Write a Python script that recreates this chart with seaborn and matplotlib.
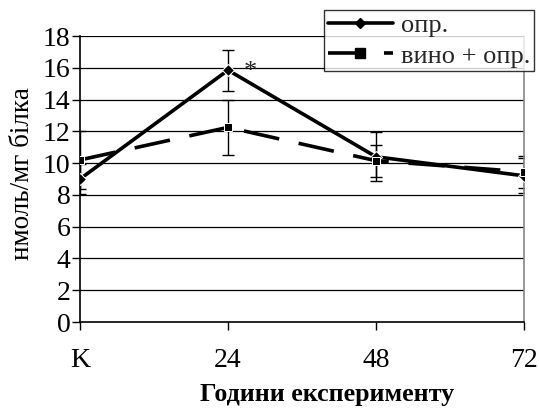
import numpy as np
import pandas as pd
import matplotlib
matplotlib.use("Agg")
import matplotlib.pyplot as plt
import seaborn as sns
from matplotlib.lines import Line2D

categories = ["K", "24", "48", "72"]
opr_values = [9.0, 15.85, 10.4, 9.2]
opr_errors = [0.95, 1.3, 1.55, 1.1]
wine_values = [10.2, 12.25, 10.15, 9.45]
wine_errors = [1.85, 1.75, 1.0, 1.0]
series_names = ["опр.", "вино + опр."]
y_ticks = [0, 2, 4, 6, 8, 10, 12, 14, 16, 18]

sns.set_theme(style="white")
plt.rcParams["font.family"] = ["Liberation Serif", "DejaVu Serif"]

df = pd.DataFrame({
    "x": list(range(len(categories))) * 2,
    "value": opr_values + wine_values,
    "series": [series_names[0]] * 4 + [series_names[1]] * 4,
})

fig = plt.figure(figsize=(5.39, 4.08), dpi=100)
ax = fig.add_axes([80/539, 1-322/408, (524-80)/539, (322-36)/408])

for yv in y_ticks[1:]:
    ax.axhline(yv, color="black", lw=0.9, zorder=0)

for vals, errs in ((opr_values, opr_errors), (wine_values, wine_errors)):
    ax.errorbar(range(len(categories)), vals, yerr=errs, fmt="none",
                ecolor="black", elinewidth=1.0, capsize=4, capthick=1.0, zorder=2)

sns.lineplot(data=df, x="x", y="value", style="series", hue="series",
             palette=["black", "black"],
             dashes={series_names[0]: "", series_names[1]: (10, 5.5)},
             markers={series_names[0]: "D", series_names[1]: "s"},
             markersize=6, linewidth=2.6, ax=ax, legend=False, zorder=3)

ax.text(1.15, 15.75, "*", fontsize=19, ha="center", va="center")

ax.set_xlim(0, 3)
ax.set_ylim(0, 18)
ax.set_xticks(range(len(categories)))
ax.set_xticklabels(categories)
ax.set_yticks(y_ticks)
ax.tick_params(axis="y", direction="out", length=6, width=1, labelsize=20, pad=1, left=True, color="black")
ax.tick_params(axis="x", direction="out", length=6, width=1, labelsize=20, pad=13, bottom=True, color="black")
for lab in ax.get_xticklabels() + ax.get_yticklabels():
    lab.set_color("black")

ax.set_xlabel("Години експерименту", fontsize=18.7, fontweight="bold", color="black")
ax.set_ylabel("нмоль/мг білка", fontsize=19.5, color="black")
ax.xaxis.set_label_coords((327-80)/444, (322-383)/286)
ax.yaxis.set_label_coords((23-80)/444, (322-174)/286)
ax.yaxis.label.set_va("center")

for side in ("left", "bottom"):
    ax.spines[side].set_color("black")
    ax.spines[side].set_linewidth(1.2)
ax.spines["right"].set_color("#888888")
ax.spines["right"].set_linewidth(1.2)
ax.spines["top"].set_visible(False)

handles = [
    Line2D([], [], color="black", lw=2.6, marker="D", markersize=5),
    Line2D([], [], color="black", lw=2.6, marker="s", markersize=7, dashes=(10, 5.5)),
]
leg = fig.legend(handles, series_names, loc="upper left", bbox_to_anchor=(324/539, 1-10/408),
                 fontsize=19, frameon=True, fancybox=False, edgecolor="black",
                 handlelength=2.45, handletextpad=0.3, borderpad=0.15, labelspacing=0.25,
                 borderaxespad=0)
leg.get_frame().set_linewidth(1.0)
leg.set_zorder(10)

fig.savefig("out.png", dpi=100, facecolor="white")
